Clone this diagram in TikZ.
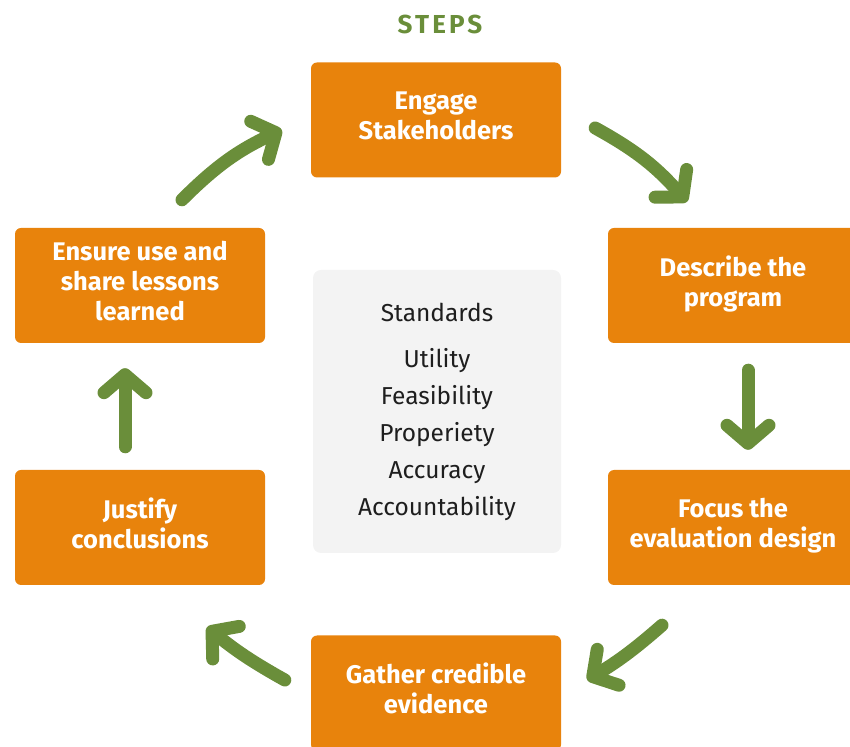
\documentclass[tikz,border=0pt]{standalone}
\usepackage{fontspec}
\setmainfont{Fira Sans}
\usetikzlibrary{positioning, arrows.meta}
\definecolor{steporange}{RGB}{232,131,12}
\definecolor{arrowgreen}{RGB}{106,142,58}
\definecolor{panelgray}{RGB}{243,243,243}
\definecolor{textgray}{RGB}{30,30,30}

\tikzset{
  stepbox/.style={fill=steporange, rounded corners=6pt, minimum width=250pt,
    minimum height=115pt, text=white, align=center,
    execute at begin node=\strut, execute at end node=\strut,
    font=\bfseries\fontsize{25.5}{30}\selectfont},
  cyclearrow/.style={draw=arrowgreen, line width=13pt, line cap=round,
    -{Straight Barb[length=18pt, width=42pt, round]}}
}

\begin{document}
\begin{tikzpicture}[x=1pt, y=1pt, node distance=2.5cm, on grid]
   \useasboundingbox (0,0) rectangle (850,746);
   \clip (0,0) rectangle (850,746);

   \node (title) at (440,721) [text=arrowgreen,
      font=\bfseries\fontsize{26}{30}\selectfont\addfontfeatures{LetterSpace=12}] {STEPS};

   \node[stepbox] (engage) at (436,626) {Engage\\Stakeholders};
   \node[stepbox] (describe) [below right=165.5pt and 297pt of engage] {Describe the\\program};
   \node[stepbox] (focus) [below=242pt of describe] {Focus the\\evaluation design};
   \node[stepbox] (gather) [below left=165.5pt and 297pt of focus] {Gather credible\\evidence};
   \node[stepbox] (justify) [above left=165.5pt and 296pt of gather] {Justify\\conclusions};
   \node[stepbox] (ensure) [above=242pt of justify] {Ensure use and\\share lessons\\learned};

   \node (standards) at (437,334.5) [fill=panelgray, rounded corners=8pt,
      minimum width=248pt, minimum height=283pt, text=textgray, align=center,
      font=\fontsize{24.5}{37}\selectfont]
      {Standards\\[9pt] Utility\\ Feasibility\\ Properiety\\ Accuracy\\ Accountability};

    % cycle of steps
    \draw[cyclearrow] ([xshift=42pt, yshift=28pt]ensure.north)
       to[bend left=10] ([xshift=-29pt, yshift=-10pt]engage.west);
    \draw[cyclearrow] ([xshift=34pt, yshift=-8pt]engage.east)
       to[bend left=10] ([xshift=-46pt, yshift=26pt]describe.north);
    \draw[cyclearrow] ([xshift=15pt, yshift=-27pt]describe.south)
       -- ([xshift=15pt, yshift=20pt]focus.north);
    \draw[cyclearrow] ([xshift=-71pt, yshift=-40pt]focus.south)
       to[bend left=5] ([xshift=26pt, yshift=13pt]gather.east);
    \draw[cyclearrow] ([xshift=-26pt, yshift=13pt]gather.west)
       to[bend left=5] ([xshift=67pt, yshift=-42pt]justify.south);
    \draw[cyclearrow] ([xshift=-15pt, yshift=23pt]justify.north)
       -- ([xshift=-15pt, yshift=-25pt]ensure.south);
\end{tikzpicture}
\end{document}
